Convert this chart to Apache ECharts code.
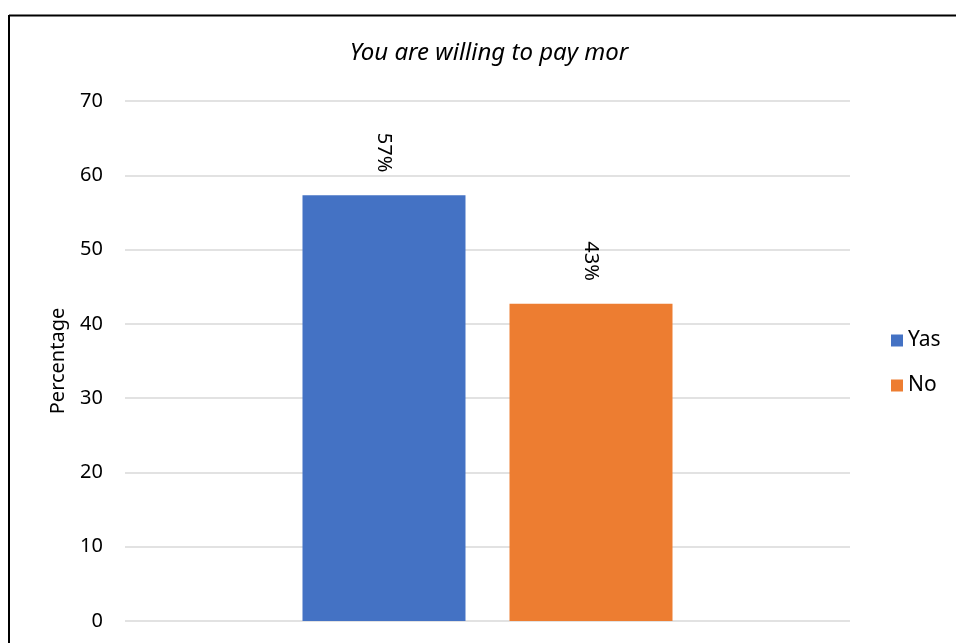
<!DOCTYPE html>
<html>
<head>
<meta charset="utf-8">
<script src="https://cdn.jsdelivr.net/npm/echarts@6/dist/echarts.min.js"></script>
<style>
html,body{margin:0;padding:0;background:#fff;}
#c{width:956px;height:643px;}
</style>
</head>
<body>
<div id="c"></div>
<script>
const titleText = "You are willing to pay mor";
const categories = [""];
const seriesNames = ["Yas", "No"];
const yasValues = [57.3];
const noValues = [42.7];
const yTicks = [0, 10, 20, 30, 40, 50, 60, 70];

const FONT = "Noto Sans";
const chart = echarts.init(document.getElementById('c'), null, {renderer: 'canvas'});

const labelCfg = {
  show: true,
  position: 'top',
  distance: 23,
  rotate: -90,
  align: 'right',
  verticalAlign: 'middle',
  fontFamily: FONT,
  fontSize: 20,
  color: '#000',
  formatter: p => Math.round(p.value) + '%'
};

chart.setOption({
  animation: false,
  backgroundColor: '#fff',
  title: {
    text: titleText,
    left: 489,
    top: 41,
    padding: 0,
    textAlign: 'center',
    textStyle: {fontFamily: FONT, fontStyle: 'italic', fontWeight: 'normal', fontSize: 24, color: '#000'}
  },
  legend: {
    orient: 'vertical',
    left: 891,
    top: 330,
    padding: 0,
    itemWidth: 12,
    itemHeight: 12,
    itemGap: 24,
    icon: 'rect',
    textStyle: {fontFamily: FONT, fontSize: 21, color: '#000', lineHeight: 20},
    data: seriesNames
  },
  grid: {left: 125, right: 106, top: 101, bottom: 22, containLabel: false},
  xAxis: {
    type: 'category',
    data: categories,
    axisLine: {show: false},
    axisTick: {show: false},
    axisLabel: {show: false}
  },
  yAxis: {
    type: 'value',
    min: yTicks[0],
    max: yTicks[yTicks.length - 1],
    interval: 10,
    name: 'Percentage',
    nameLocation: 'middle',
    nameGap: 57,
    nameTextStyle: {fontFamily: FONT, fontSize: 20, color: '#000'},
    axisLine: {show: false},
    axisTick: {show: false},
    axisLabel: {fontFamily: FONT, fontSize: 20, color: '#000', margin: 22},
    splitLine: {lineStyle: {color: '#d9d9d9', width: 1.5}}
  },
  series: [
    {name: seriesNames[0], type: 'bar', data: yasValues, barWidth: 163, barGap: '27%', itemStyle: {color: '#4472c4'}, label: labelCfg},
    {name: seriesNames[1], type: 'bar', data: noValues, barWidth: 163, barGap: '27%', itemStyle: {color: '#ed7d31'}, label: labelCfg}
  ],
  graphic: [
    {type: 'line', shape: {x1: 9, y1: 15.5, x2: 956, y2: 15.5}, style: {stroke: '#000', lineWidth: 2}, silent: true},
    {type: 'line', shape: {x1: 9, y1: 15, x2: 9, y2: 643}, style: {stroke: '#000', lineWidth: 2}, silent: true}
  ]
});
</script>
</body>
</html>
